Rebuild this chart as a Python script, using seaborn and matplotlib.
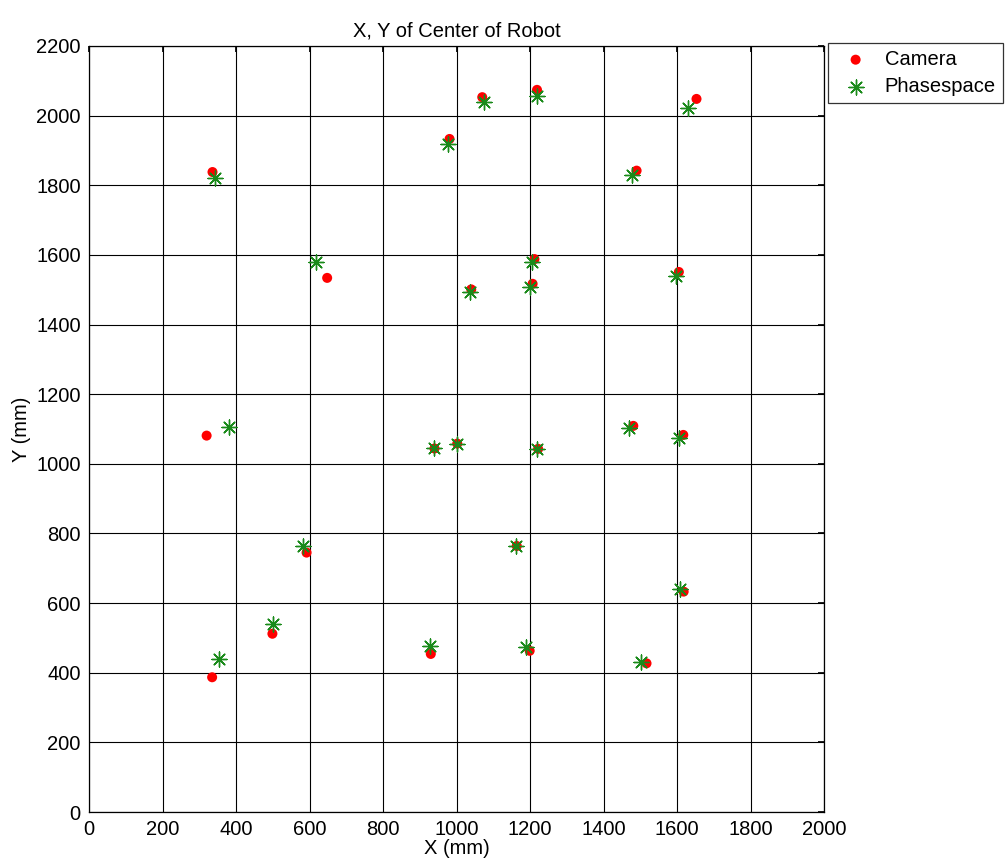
import numpy as np
import pandas as pd
import matplotlib
matplotlib.use("Agg")
import matplotlib.pyplot as plt
import seaborn as sns

# Robot center positions (mm) measured by the overhead camera
camera_x = [336, 648, 320, 1070, 1219, 1653, 981, 1490, 1212, 1207, 1040, 1605,
            592, 499, 335, 930, 940, 1002, 1222, 1481, 1617, 1164, 1618, 1199, 1517]
camera_y = [1838, 1534, 1081, 2053, 2074, 2048, 1933, 1842, 1588, 1517, 1501, 1551,
            745, 512, 387, 454, 1044, 1058, 1043, 1109, 1083, 764, 633, 463, 427]

# Same positions from the PhaseSpace motion-capture system
phase_x = [343, 617, 381, 1075, 1220, 1630, 978, 1478, 1206, 1200, 1037, 1596,
           583, 501, 355, 928, 939, 1001, 1219, 1470, 1606, 1161, 1608, 1188, 1501]
phase_y = [1820, 1580, 1107, 2038, 2056, 2023, 1918, 1830, 1581, 1507, 1493, 1538,
           764, 540, 440, 478, 1044, 1058, 1043, 1104, 1073, 764, 641, 473, 432]

x_ticks = list(range(0, 2001, 200))
y_ticks = list(range(0, 2201, 200))

sns.set_theme(style="white")
plt.rcParams["font.family"] = ["Liberation Sans", "DejaVu Sans"]
plt.rcParams["text.color"] = "black"
plt.rcParams["axes.labelcolor"] = "black"

FS = 14.5

cam = pd.DataFrame({"x": camera_x, "y": camera_y})
ps = pd.DataFrame({"x": phase_x, "y": phase_y})

fig = plt.figure(figsize=(10.07, 8.58), dpi=100)
ax = fig.add_axes([0.0884, 0.0536, 0.7299, 0.8928])

sns.scatterplot(data=cam, x="x", y="y", ax=ax, marker="o", s=52,
                color="#ff0000", edgecolor="none", label="Camera", zorder=3)
sns.scatterplot(data=ps, x="x", y="y", ax=ax, marker=(8, 2, 0), s=115,
                color="#1a8a1a", edgecolor="#1a8a1a", linewidth=1.0,
                label="Phasespace", zorder=4)

ax.set_xlim(0, 2000)
ax.set_ylim(0, 2200)
ax.set_xticks(x_ticks)
ax.set_yticks(y_ticks)
ax.grid(True, color="black", linewidth=0.8, linestyle="-")
ax.set_axisbelow(True)
ax.tick_params(direction="in", length=4, top=True, right=True,
               labelsize=FS, colors="black")
ax.tick_params(axis="y", pad=6)
ax.tick_params(axis="x", pad=6)
for sp in ax.spines.values():
    sp.set_color("black")
    sp.set_linewidth(0.9)

ax.set_title("X, Y of Center of Robot", fontsize=FS, pad=7, color="black")
ax.set_xlabel("X (mm)", fontsize=FS, labelpad=0)
ax.set_ylabel("Y (mm)", fontsize=FS, labelpad=4)

leg = ax.legend(loc="upper left", bbox_to_anchor=(1.006, 1.004), fontsize=FS,
                frameon=True, fancybox=False, borderpad=0.35, handletextpad=0.45,
                labelspacing=0.4, borderaxespad=0, handlelength=2.0)
leg.get_frame().set_edgecolor("black")
leg.get_frame().set_linewidth(0.9)
for t in leg.get_texts():
    t.set_color("black")

fig.savefig("out.png", dpi=100)
